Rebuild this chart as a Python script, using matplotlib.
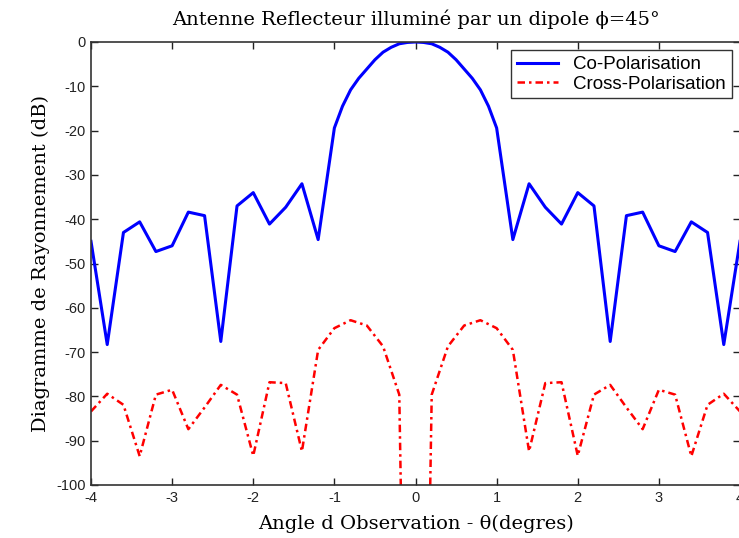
import matplotlib
matplotlib.use("Agg")
import matplotlib.pyplot as plt
import numpy as np

# Co-polarisation
x_co = [-4.0, -3.8, -3.6, -3.4, -3.2, -3.0, -2.8, -2.6, -2.4, -2.2, -2.0, -1.8, -1.6, -1.4, -1.2,
        -1.0, -0.9, -0.8, -0.7, -0.6, -0.5, -0.4, -0.3, -0.2, -0.1, 0.0,
        0.1, 0.2, 0.3, 0.4, 0.5, 0.6, 0.7, 0.8, 0.9, 1.0,
        1.2, 1.4, 1.6, 1.8, 2.0, 2.2, 2.4, 2.6, 2.8, 3.0, 3.2, 3.4, 3.6, 3.8, 4.0]
co_pol = [-45.0, -68.3, -43.0, -40.6, -47.3, -46.0, -38.4, -39.2, -67.6, -37.0, -34.0, -41.1, -37.3, -32.0, -44.6,
          -19.4, -14.5, -10.8, -8.2, -6.1, -4.0, -2.3, -1.2, -0.4, -0.1, 0.0,
          -0.1, -0.4, -1.2, -2.3, -4.0, -6.1, -8.2, -10.8, -14.5, -19.4,
          -44.6, -32.0, -37.3, -41.1, -34.0, -37.0, -67.6, -39.2, -38.4, -46.0, -47.3, -40.6, -43.0, -68.3, -45.0]

# Cross-polarisation
x_cross = [-4.0, -3.8, -3.6, -3.4, -3.2, -3.0, -2.8, -2.6, -2.4, -2.2, -2.0, -1.8, -1.6, -1.4, -1.2,
           -1.0, -0.8, -0.6, -0.4, -0.2, 0.0, 0.2, 0.4, 0.6, 0.8, 1.0,
           1.2, 1.4, 1.6, 1.8, 2.0, 2.2, 2.4, 2.6, 2.8, 3.0, 3.2, 3.4, 3.6, 3.8, 4.0]
cross_pol = [-83.4, -79.4, -81.9, -93.5, -79.6, -78.5, -87.4, -82.5, -77.4, -79.6, -93.4, -76.8, -77.0, -92.4, -69.5,
             -64.6, -62.8, -64.0, -68.7, -79.6, -300.0, -79.6, -68.7, -64.0, -62.8, -64.6,
             -69.5, -92.4, -77.0, -76.8, -93.4, -79.6, -77.4, -82.5, -87.4, -78.5, -79.6, -93.5, -81.9, -79.4, -83.4]

x_ticks = [-4, -3, -2, -1, 0, 1, 2, 3, 4]
y_ticks = [0, -10, -20, -30, -40, -50, -60, -70, -80, -90, -100]

W, H = 739, 538
fig = plt.figure(figsize=(W / 100, H / 100), dpi=100)
ax = fig.add_axes([91 / W, 1 - 485 / H, 649 / W, (485 - 42) / H])

ax.plot(x_co, co_pol, color="#0000ff", lw=2.2, label="Co-Polarisation")
ax.plot(x_cross, cross_pol, color="#ff0000", lw=1.8, linestyle=(0, (3.0, 1.6, 1.0, 1.6)),
        label="Cross-Polarisation")

ax.set_xlim(-4, 4)
ax.set_ylim(-100, 0)
ax.set_xticks(x_ticks)
ax.set_yticks(y_ticks)
ax.set_xticklabels([str(t) for t in x_ticks], family="Liberation Sans", fontsize=10.5)
ax.set_yticklabels([str(t) for t in y_ticks], family="Liberation Sans", fontsize=10.5)
ax.tick_params(direction="in", top=True, right=True, length=5, width=1, colors="#222222", pad=4)
for s in ax.spines.values():
    s.set_color("#333333")
    s.set_linewidth(1.2)

ax.set_title("Antenne Reflecteur illuminé par un dipole \u03d5=45°", family="DejaVu Serif",
             fontsize=14, pad=12)
ax.set_xlabel("Angle d Observation - \u03b8(degres)", family="DejaVu Serif", fontsize=14, labelpad=7)
ax.set_ylabel("Diagramme de Rayonnement (dB)", family="DejaVu Serif", fontsize=14, labelpad=4)

leg = ax.legend(loc="upper right", prop={"family": "Liberation Sans", "size": 13.5},
                fancybox=False, edgecolor="#333333", framealpha=1, borderaxespad=0.45,
                handlelength=2.2, handletextpad=0.8, borderpad=0.3, labelspacing=0.12)
leg.get_frame().set_linewidth(1.0)

fig.savefig("out.png", dpi=100)
